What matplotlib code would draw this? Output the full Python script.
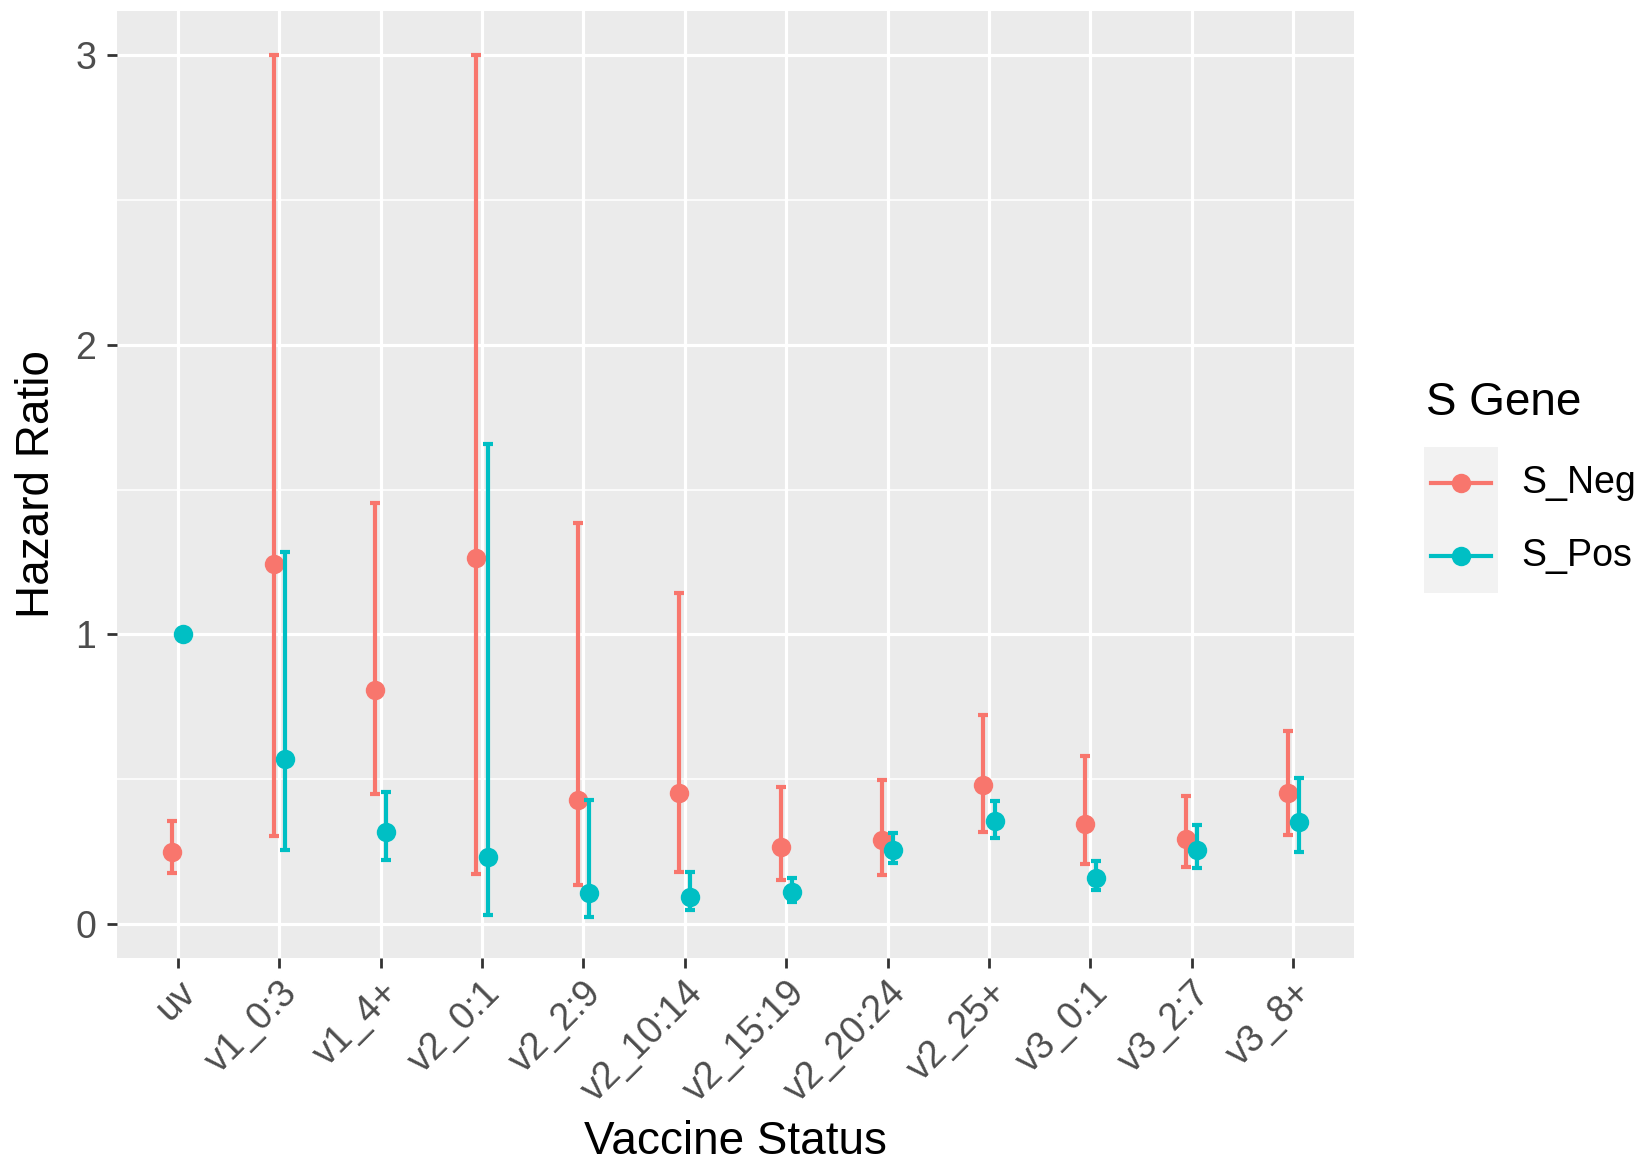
import matplotlib
matplotlib.use("Agg")
import matplotlib.pyplot as plt
from matplotlib.lines import Line2D
from matplotlib.patches import Rectangle
import numpy as np

# ---- data ----
categories = ["uv", "v1_0:3", "v1_4+", "v2_0:1", "v2_2:9", "v2_10:14", "v2_15:19",
              "v2_20:24", "v2_25+", "v3_0:1", "v3_2:7", "v3_8+"]
neg_hr = [0.248, 1.242, 0.807, 1.265, 0.428, 0.452, 0.266, 0.289, 0.479, 0.346, 0.294, 0.452]
neg_lo = [0.175, 0.302, 0.449, 0.173, 0.132, 0.178, 0.150, 0.169, 0.317, 0.206, 0.196, 0.306]
neg_hi = [0.354, 3.000, 1.453, 3.000, 1.384, 1.141, 0.473, 0.496, 0.720, 0.579, 0.441, 0.666]
pos_hr = [1.000, 0.569, 0.317, 0.232, 0.106, 0.092, 0.110, 0.254, 0.354, 0.158, 0.254, 0.352]
pos_lo = [1.000, 0.255, 0.221, 0.031, 0.023, 0.046, 0.076, 0.208, 0.297, 0.118, 0.193, 0.246]
pos_hi = [1.000, 1.284, 0.455, 1.659, 0.429, 0.179, 0.157, 0.312, 0.423, 0.216, 0.340, 0.505]
series_names = ["S_Neg", "S_Pos"]
colors = ["#F8766D", "#00BFC4"]
yticks = [0, 1, 2, 3]

W, H = 1640, 1164
fig = plt.figure(figsize=(W / 100, H / 100), dpi=100)
fig.patch.set_facecolor("white")

# axes placement (pixels)
L, R, T, B = 117, 1354, 10.5, 958
ax = fig.add_axes([L / W, 1 - B / H, (R - L) / W, (B - T) / H])
ax.set_facecolor("#EBEBEB")

x = np.arange(len(categories))
dodge = 0.055
series = [(neg_hr, neg_lo, neg_hi), (pos_hr, pos_lo, pos_hi)]
offsets = [-dodge, dodge]
z = 3
for (hr, lo, hi), off, col in zip(series, offsets, colors):
    hr = np.array(hr); lo = np.array(lo); hi = np.array(hi)
    ax.errorbar(x + off, hr, yerr=[hr - lo, hi - hr], fmt="none", ecolor=col,
                elinewidth=3.0, capsize=3.6, capthick=3.0, zorder=z)
    ax.plot(x + off, hr, "o", color=col, markersize=14, markeredgewidth=0, zorder=z + 1)
    z += 2

ax.set_xlim(-0.6, len(categories) - 1 + 0.6)
ax.set_ylim(-0.1185, 3.155)

# grid
ax.set_yticks(yticks)
ax.set_yticks([0.5, 1.5, 2.5], minor=True)
ax.set_xticks(x)
ax.grid(which="major", color="white", linewidth=2.3)
ax.grid(which="minor", axis="y", color="white", linewidth=1.15)
ax.set_axisbelow(True)
for s in ax.spines.values():
    s.set_visible(False)

font = "Liberation Sans"
ax.set_yticklabels([str(v) for v in yticks], fontsize=27, color="#4D4D4D", family=font)
ax.set_xticklabels(categories, fontsize=27, color="#4D4D4D", family=font,
                   rotation=45, ha="right", va="top", rotation_mode="anchor")
ax.tick_params(axis="both", which="major", length=7, width=2, color="#333333")
ax.tick_params(axis="y", pad=8)
ax.tick_params(axis="x", pad=5)
ax.tick_params(which="minor", length=0)

fig.text(703 * 1.0459 / W, 1 - 1142 / H, "Vaccine Status", fontsize=33, family=font,
         ha="center", va="center")
fig.text(37 / W, 1 - (T + B) / 2 / H, "Hazard Ratio", fontsize=33, family=font,
         ha="center", va="center", rotation=90)

# legend (manual, ggplot style)
fig.text(1426 / W, 1 - 403 / H, "S Gene", fontsize=33, family=font, ha="left", va="center")
fig.add_artist(Rectangle((1424 / W, 1 - 593 / H), 74 / W, 146 / H,
                         transform=fig.transFigure, facecolor="#F2F2F2", edgecolor="none"))
key_y = [483, 556]
for ky, col, name in zip(key_y, colors, series_names):
    yf = 1 - ky / H
    fig.add_artist(Line2D([1431 / W, 1491 / W], [yf, yf], transform=fig.transFigure,
                          color=col, linewidth=3.0))
    fig.add_artist(Line2D([1461 / W], [yf], transform=fig.transFigure, marker="o",
                          color=col, markersize=14, markeredgewidth=0, linestyle="none"))
    fig.text(1521 / W, yf, name, fontsize=27, family=font, ha="left", va="center")

fig.savefig("out.png", dpi=100)
